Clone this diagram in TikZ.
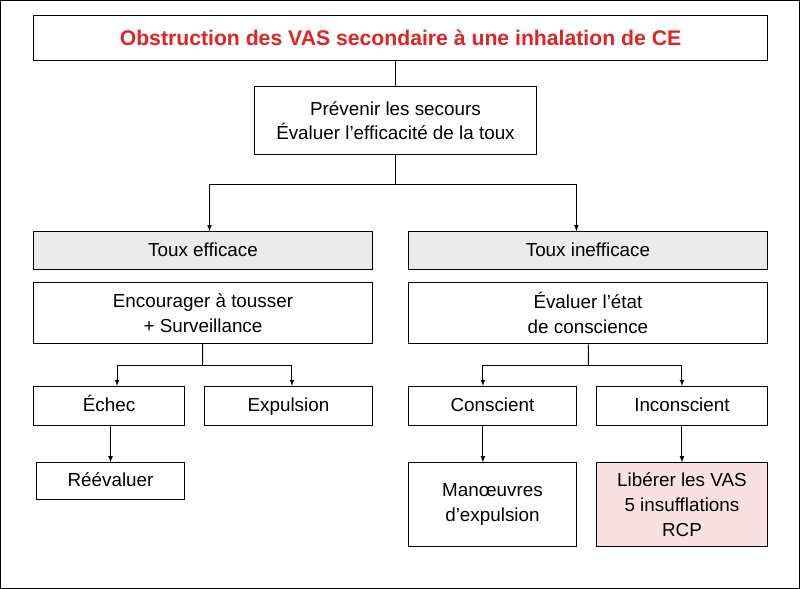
\documentclass[tikz,border=0pt]{standalone}
\usepackage{fontspec}
\setmainfont{Liberation Sans}
\usetikzlibrary{positioning}
\definecolor{titlered}{RGB}{225,35,35}
\definecolor{headgrey}{RGB}{235,235,235}
\definecolor{alertpink}{RGB}{250,225,225}
\begin{document}
\begin{tikzpicture}[x=0.03cm,y=-0.03cm,
            box/.style = {draw,thick,fill=white,align=center,font=\fontsize{16}{21}\selectfont,
                inner sep=0pt},
            onebox/.style = {box,text height=12pt,text depth=3pt},
            headbox/.style = {onebox,fill=headgrey},
            arr/.style = {thick,-latex}]
            \draw[thick] (2,2) rectangle (797,587);
            \node[box,minimum width=730*0.03cm,minimum height=45*0.03cm,
                font=\fontsize{18}{22}\selectfont\bfseries,text=titlered] (title) at (400,39.5)
                {Obstruction des VAS secondaire à une inhalation de CE};
            \node[box,minimum width=280*0.03cm,minimum height=67*0.03cm] (alert) at (395,121.5)
                {Prévenir les secours\\Évaluer l’efficacité de la toux};
            \node[headbox,minimum width=337*0.03cm,minimum height=38*0.03cm] (eff) at (203.5,251) {Toux efficace};
            \node[headbox,minimum width=357*0.03cm,minimum height=38*0.03cm] (ineff) at (586.5,251) {Toux inefficace};
            \node[box,minimum width=337*0.03cm,minimum height=60*0.03cm] (cough) at (203.5,313)
                {Encourager à tousser\\+ Surveillance};
            \node[box,minimum width=357*0.03cm,minimum height=60*0.03cm] (aware) at (586.5,313)
                {Évaluer l’état\\de conscience};
            \node[onebox,minimum width=150*0.03cm,minimum height=39*0.03cm] (fail) at (110,405.5) {Échec};
            \node[onebox,minimum width=167*0.03cm,minimum height=39*0.03cm] (expel) at (288.5,405.5) {Expulsion};
            \node[onebox,minimum width=167*0.03cm,minimum height=39*0.03cm] (consc) at (491.5,405.5) {Conscient};
            \node[onebox,minimum width=170*0.03cm,minimum height=39*0.03cm] (unconsc) at (680,405.5) {Inconscient};
            \node[onebox,minimum width=147*0.03cm,minimum height=36*0.03cm] (redo) at (111.5,480) {Réévaluer};
            \node[box,minimum width=167*0.03cm,minimum height=83*0.03cm] (moves) at (491.5,503.5)
                {Manœuvres\\d’expulsion};
            \node[box,fill=alertpink,minimum width=170*0.03cm,minimum height=83*0.03cm] (rescue) at (680,503.5)
                {Libérer les VAS\\5 insufflations\\RCP};
            % connectors
            \coordinate (split1) at (395,185);
            \coordinate (split2) at (203,365);
            \coordinate (split3) at (587,365);
            \draw[thick] (alert.north) -- (alert.north |- title.south);
            \draw[thick] (alert) -- (split1);
            \draw[arr] (split1) -| (eff.north -| 210,0);
            \draw[arr] (split1) -| (ineff.north -| 575,0);
            \draw[thick] (cough) -- (split2);
            \draw[arr] (split2) -| (fail.north -| 118,0);
            \draw[arr] (split2) -| (expel.north -| 292,0);
            \draw[thick] (aware) -- (split3);
            \draw[arr] (split3) -| (consc.north -| 482,0);
            \draw[arr] (split3) -| (unconsc.north -| 680,0);
            \draw[arr] (fail.south -| redo.north) -- (redo);
            \draw[arr] (consc.south -| 482,0) -- (moves.north -| 482,0);
            \draw[arr] (unconsc) -- (rescue);
        \end{tikzpicture}
\end{document}
